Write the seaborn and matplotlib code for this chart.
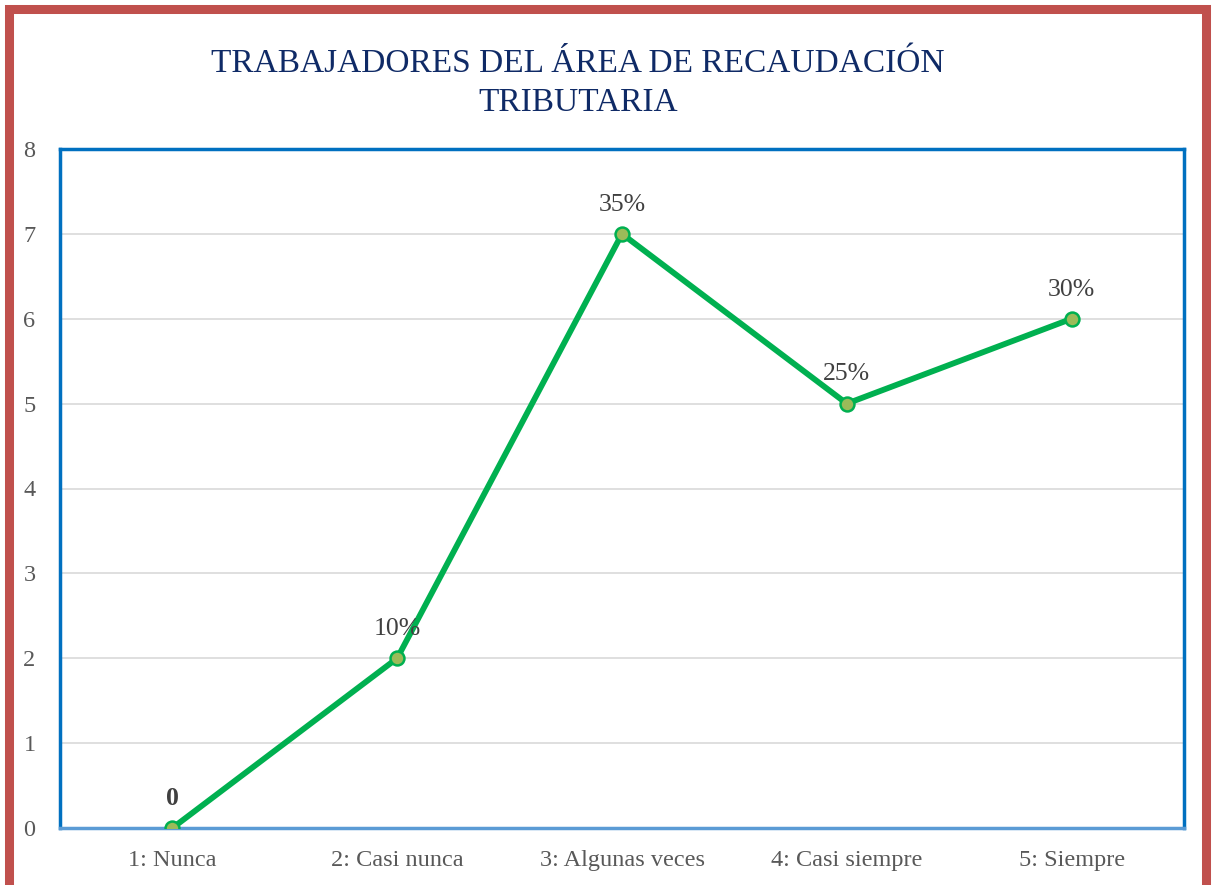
import matplotlib
matplotlib.use("Agg")
import matplotlib.pyplot as plt
import seaborn as sns
import pandas as pd
from matplotlib.patches import Rectangle

categories = ["1: Nunca", "2: Casi nunca", "3: Algunas veces", "4: Casi siempre", "5: Siempre"]
values = [0, 2, 7, 5, 6]
labels = ["0", "10%", "35%", "25%", "30%"]
yticks = [0, 1, 2, 3, 4, 5, 6, 7, 8]

sns.set_style("white")
plt.rcParams['font.family'] = ['Liberation Serif', 'DejaVu Serif']

df = pd.DataFrame({"cat": categories, "val": values, "x": range(len(categories))})

fig = plt.figure(figsize=(12.14, 8.85), dpi=100)
ax = fig.add_axes([60/1214, 1-828/885, (1184-60)/1214, (828-149)/885])

for y in yticks[1:]:
    ax.axhline(y, color="#D9D9D9", lw=1.2, zorder=0)

sns.lineplot(data=df, x="x", y="val", ax=ax, color="#00B050", lw=4.2,
             marker="o", markersize=10, markerfacecolor="#9BBB59",
             markeredgecolor="#00B050", markeredgewidth=1.8, zorder=3)

for i, (v, l) in enumerate(zip(values, labels)):
    ax.annotate(l, (i, v), xytext=(0, 21), textcoords="offset points",
                ha="center", va="center", fontsize=18.5, color="#404040",
                fontweight="bold" if i == 0 else "normal")

ax.set_xlim(-0.5, 4.5)
ax.set_ylim(0, 8)
ax.set_xticks(range(len(categories)))
ax.set_xticklabels(categories)
ax.set_yticks(yticks)
ax.set_xlabel("")
ax.set_ylabel("")
ax.tick_params(axis="both", labelsize=17.5, colors="#595959", length=0)
ax.tick_params(axis="x", pad=16)
ax.tick_params(axis="y", pad=22)
for lbl in ax.get_yticklabels():
    lbl.set_horizontalalignment("center")

for s in ["left", "top", "right"]:
    ax.spines[s].set_color("#0070C0")
    ax.spines[s].set_linewidth(2.5)
ax.spines["bottom"].set_color("#5B9BD5")
ax.spines["bottom"].set_linewidth(2.5)

fig.text(578/1214, 1-83/885, "TRABAJADORES DEL ÁREA DE RECAUDACIÓN\nTRIBUTARIA",
         ha="center", va="center", fontsize=24, color="#0F2A66", linespacing=1.38)

fig.patches.append(Rectangle((9/1214, -0.05), 1197/1214, 1-9/885+0.05,
                             transform=fig.transFigure, fill=False,
                             edgecolor="#C0504D", lw=6.5, zorder=10))

fig.savefig("out.png", dpi=100)
